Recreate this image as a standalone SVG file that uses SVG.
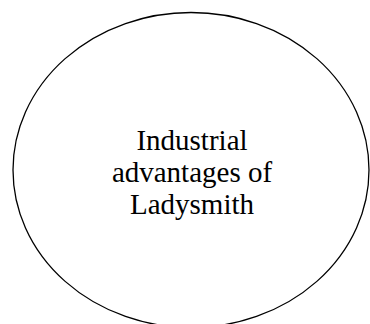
<svg xmlns="http://www.w3.org/2000/svg" width="370" height="324" viewBox="0 0 370 324">
<style>
.n{fill:#fff;stroke:#000;stroke-width:1.3}
.t{font-family:"Liberation Serif","Times New Roman",serif;font-size:29px;fill:#000;text-anchor:middle}
</style>
<rect width="370" height="324" fill="#fff"/>
<g id="node1">
<ellipse class="n" cx="191" cy="170" rx="178" ry="157.5"/>
<text class="t" x="192" y="150">Industrial</text>
<text class="t" x="192" y="182">advantages of</text>
<text class="t" x="192" y="214">Ladysmith</text>
</g>
<g id="connectors"/>
</svg>
